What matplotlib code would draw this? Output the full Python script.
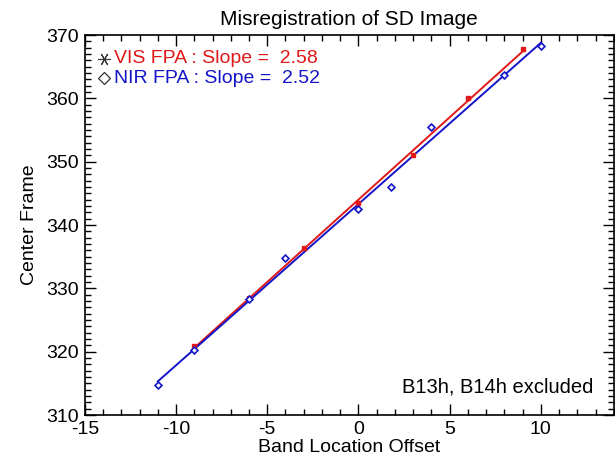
import numpy as np
import matplotlib
matplotlib.use("Agg")
import matplotlib.pyplot as plt
from matplotlib.ticker import MultipleLocator

plt.rcParams['font.family'] = ['Liberation Sans', 'DejaVu Sans']
plt.rcParams['axes.unicode_minus'] = False

# data
vis_x = [-9, -6, -3, 0, 3, 6, 9]
vis_y = [320.9, 328.5, 336.4, 343.5, 351.0, 360.0, 367.8]
nir_x = [-11, -9, -6, -4, 0, 1.8, 4, 8, 10]
nir_y = [314.7, 320.3, 328.3, 334.8, 342.5, 346.0, 355.5, 363.7, 368.3]
vis_label = "VIS FPA : Slope =  2.58"
nir_label = "NIR FPA : Slope =  2.52"

red = '#e01818'
blue = '#1414c8'

fig = plt.figure(figsize=(6.15, 4.67), dpi=100)
ax = fig.add_axes([0.138, 0.111, 0.860, 0.814])

# fitted lines over the data range
for xs, ys, c in [(vis_x, vis_y, red), (nir_x, nir_y, blue)]:
    p = np.polyfit(xs, ys, 1)
    xx = np.array([min(xs), max(xs)])
    ax.plot(xx, np.polyval(p, xx), color=c, lw=1.4, zorder=2)

ax.plot(vis_x, vis_y, ls='none', marker='s', ms=3.5, color=red, zorder=3)
ax.plot(nir_x, nir_y, ls='none', marker='D', ms=3.5, mfc='white', mec=blue, mew=1.2, zorder=3)

ax.set_xlim(-15, 14)
ax.set_ylim(310, 370)
ax.xaxis.set_major_locator(MultipleLocator(5))
ax.xaxis.set_minor_locator(MultipleLocator(1))
ax.yaxis.set_major_locator(MultipleLocator(10))
ax.yaxis.set_minor_locator(MultipleLocator(1))
ax.tick_params(which='both', direction='in', top=True, right=True, labelsize=14, width=1)
ax.tick_params(which='major', length=8, pad=4)
ax.tick_params(which='minor', length=4)
for s in ax.spines.values():
    s.set_linewidth(1.2)

ax.set_title("Misregistration of SD Image", fontsize=15, pad=7)
ax.set_xlabel("Band Location Offset", fontsize=14, labelpad=1)
ax.set_ylabel("Center Frame", fontsize=14, labelpad=6)

# legend as text
ax.plot([0.036], [0.938], transform=ax.transAxes, marker=(6, 2, 90), ms=9, color='#333333', mew=0.8, clip_on=False)
ax.plot([0.036], [0.886], transform=ax.transAxes, marker='D', ms=6, mfc='white', mec='#333333', mew=0.9, clip_on=False)
ax.text(0.056, 0.938, vis_label, transform=ax.transAxes, color=red, fontsize=14, va='center')
ax.text(0.056, 0.886, nir_label, transform=ax.transAxes, color=blue, fontsize=14, va='center')

ax.text(0.962, 0.075, "B13h, B14h excluded", transform=ax.transAxes, ha='right', va='center', fontsize=14.5)

fig.savefig("out.png", dpi=100)
